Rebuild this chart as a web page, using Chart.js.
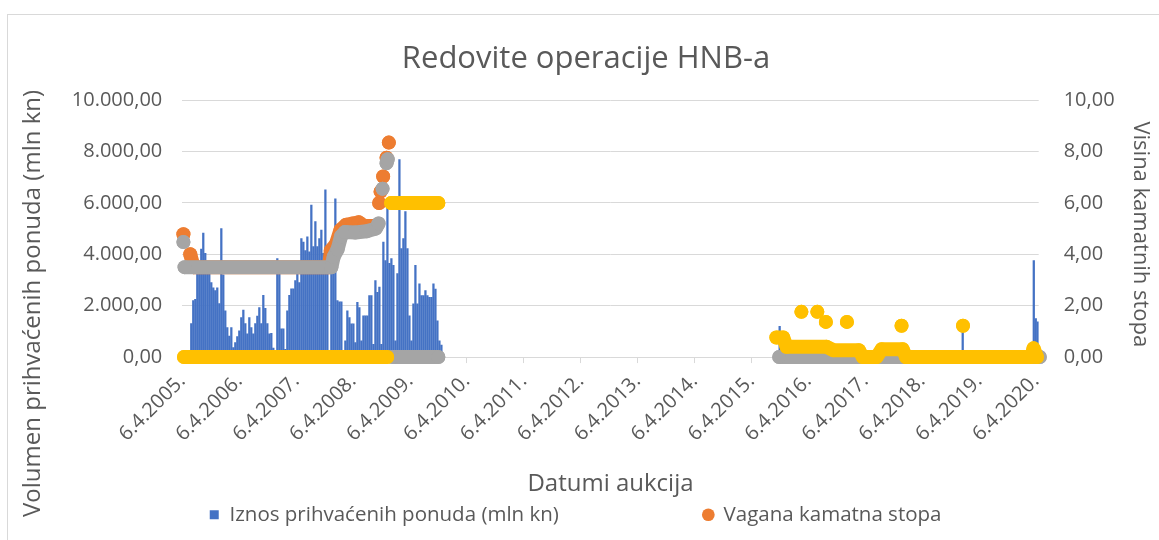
<!DOCTYPE html>
<html>
<head>
<meta charset="utf-8">
<title>Redovite operacije HNB-a</title>
<script src="https://cdn.jsdelivr.net/npm/chart.js@4.4.1/dist/chart.umd.min.js"></script>
<style>
  html, body { margin: 0; padding: 0; background: #fff; overflow: hidden; width: 1159px; height: 540px; }
  #frame { position: absolute; left: 7px; top: 14px; right: 0; bottom: 0; border-left: 1px solid #d9d9d9; border-top: 1px solid #d9d9d9; }
  #chart { position: absolute; left: 0; top: 0; }
</style>
</head>
<body>
<div id="frame"></div>
<canvas id="chart" width="1159" height="540"></canvas>
<script>

// --- data (x = decimal year) ---

const tickLabels = ['6.4.2005.', '6.4.2006.', '6.4.2007.', '6.4.2008.', '6.4.2009.', '6.4.2010.',
  '6.4.2011.', '6.4.2012.', '6.4.2013.', '6.4.2014.', '6.4.2015.', '6.4.2016.', '6.4.2017.',
  '6.4.2018.', '6.4.2019.', '6.4.2020.'];
const firstTick = 2005.26;   // 6.4.2005.

// Iznos prihvaćenih ponuda (mln kn)
const volDates = [
  2005.418, 2005.453, 2005.489, 2005.524, 2005.559, 2005.594, 2005.629, 2005.664, 2005.700, 2005.735,
  2005.770, 2005.805, 2005.840, 2005.875, 2005.911, 2005.946, 2005.981, 2006.016, 2006.051, 2006.086,
  2006.122, 2006.157, 2006.192, 2006.227, 2006.262, 2006.297, 2006.333, 2006.368, 2006.403, 2006.438,
  2006.473, 2006.508, 2006.544, 2006.579, 2006.614, 2006.649, 2006.684, 2006.719, 2006.755, 2006.790,
  2006.825, 2006.860, 2006.895, 2006.930, 2006.966, 2007.001, 2007.036, 2007.071, 2007.106, 2007.142,
  2007.177, 2007.212, 2007.247, 2007.282, 2007.317, 2007.353, 2007.388, 2007.423, 2007.458, 2007.493,
  2007.528, 2007.564, 2007.599, 2007.634, 2007.669, 2007.704, 2007.739, 2007.775, 2007.810, 2007.845,
  2007.880, 2007.915, 2007.950, 2007.986, 2008.021, 2008.056, 2008.091, 2008.126, 2008.161, 2008.197,
  2008.232, 2008.267, 2008.302, 2008.337, 2008.372, 2008.408, 2008.443, 2008.478, 2008.513, 2008.548,
  2008.583, 2008.619, 2008.654, 2008.689, 2008.724, 2008.759, 2008.794, 2008.830, 2008.865, 2008.900,
  2008.935, 2008.970, 2009.006, 2009.041, 2009.076, 2009.111, 2009.146, 2009.181, 2009.217, 2009.252,
  2009.287, 2009.322, 2009.357, 2009.392, 2009.428, 2009.463, 2009.498, 2009.533, 2009.568, 2009.603,
  2009.639, 2009.674, 2009.709, 2009.744, 2009.779, 2009.814,
  2015.758, 2018.975, 2020.224, 2020.259, 2020.294
];
const volValues = [
  1300, 2200, 2250, 3300, 3600, 4200, 4830, 4040, 3250, 3250,
  2900, 2700, 2590, 2700, 2080, 5000, 3200, 1800, 1150, 820,
  1150, 370, 560, 800, 1020, 1540, 1830, 1300, 900, 1540,
  1150, 900, 1300, 1600, 1930, 1300, 2400, 1900, 1300, 900,
  920, 350, 250, 3830, 3250, 1100, 1100, 300, 1800, 2400,
  2660, 2660, 2980, 3250, 2900, 4610, 4480, 4150, 4680, 4100,
  5920, 4300, 5270, 4300, 4610, 4940, 4040, 6510, 3500, 0,
  3500, 3800, 6160, 2200, 2150, 2150, 250, 630, 1800, 1540,
  1290, 1290, 560, 2130, 1930, 630, 1610, 1610, 1610, 2390,
  2390, 500, 2980, 2520, 2720, 500, 4480, 3760, 5860, 3650,
  3830, 3570, 630, 3250, 7690, 4220, 4610, 5660, 4220, 1610,
  630, 2070, 3570, 2070, 2850, 2390, 2390, 2590, 2390, 2330,
  2330, 2850, 2650, 1410, 630, 470,
  1200, 1200, 3760, 1500, 1370
];

// Vagana kamatna stopa (null = break in the run of dots)
const orangeDates  = [2005.28, 2005.28, 2005.40, 2005.46, 2007.84, 2007.87, 2007.96, 2008.04, 2008.14, 2008.26,
  2008.36, 2008.46, 2008.58, 2008.66, 2008.66, 2008.72, 2008.72, 2008.745, 2008.745, 2008.79,
  2008.79, 2008.85, 2008.85, 2008.89];
const orangeValues = [4.78, null, 4.0, 3.5, 3.5, 4.15, 4.4, 4.95, 5.15, 5.2,
  5.25, 5.1, 5.1, 5.1, null, 6.0, null, 6.44, null, 7.03,
  null, 7.76, null, 8.35];

// second rate series (grey)
const grayDates  = [2005.28, 2005.28, 2005.30, 2007.88, 2007.92, 2007.99, 2008.05, 2008.12, 2008.30, 2008.50,
  2008.66, 2008.71, 2008.71, 2008.78, 2008.78, 2008.85, 2008.87, 2008.87, 2008.95, 2009.76,
  2009.76, 2015.75, 2020.33];
const grayValues = [4.48, null, 3.5, 3.5, 3.9, 4.2, 4.7, 4.87, 4.85, 4.9,
  5.0, 5.2, null, 6.55, null, 7.55, 7.7, null, 0, 0,
  null, 0, 0];

// third rate series (yellow)
const yellowDates  = [2005.29, 2008.86, 2008.86, 2008.93, 2009.76, 2009.76,
  2015.70, 2015.82, 2015.88, 2016.58, 2016.70, 2017.15, 2017.22, 2017.46, 2017.55, 2017.92,
  2017.98, 2020.18, 2020.22, 2020.28, 2020.28,
  2016.14, 2016.14, 2016.42, 2016.42, 2016.57, 2016.57, 2016.94, 2016.94, 2017.90, 2017.90, 2018.98];
const yellowValues = [0, 0, null, 6, 6, null,
  0.76, 0.76, 0.4, 0.4, 0.27, 0.27, 0, 0, 0.3, 0.3,
  0, 0, 0.34, 0, null,
  1.76, null, 1.76, null, 1.37, null, 1.37, null, 1.22, null, 1.22];


// --- helpers ---

function toPoints(dates, values) {
  return dates.map(function(d, i) { return { x: d, y: values[i] }; });
}

function hrNumber(v, thousands) {
  let parts = v.toFixed(2).split('.');
  let whole = parts[0];
  if (thousands) whole = whole.replace(/\B(?=(\d{3})+(?!\d))/g, '.');
  return whole + ',' + parts[1];
}

function rateSeries(label, color, dates, values, order) {
  return {
    type: 'scatter',
    label: label,
    data: toPoints(dates, values),
    yAxisID: 'y1',
    order: order,
    showLine: true,
    spanGaps: false,
    tension: 0,
    borderColor: color,
    backgroundColor: color,
    borderWidth: 14,
    borderCapStyle: 'round',
    borderJoinStyle: 'round',
    pointStyle: 'circle',
    pointBackgroundColor: color,
    pointBorderWidth: 0,
    pointRadius: 7,
    pointHoverRadius: 7,
    clip: false
  };
}

Chart.defaults.font.family = "'Open Sans', sans-serif";
Chart.defaults.color = '#595959';

const txt = '#595959';
const gridCol = '#d9d9d9';

// --- chart ---

let myChart = document.getElementById('chart').getContext('2d');

let chart = new Chart(myChart, {
  type: 'scatter',
  data: {
    datasets: [
      {
        type: 'bar',
        label: 'Iznos prihvaćenih ponuda (mln kn)',
        data: toPoints(volDates, volValues),
        yAxisID: 'y',
        order: 4,
        backgroundColor: '#4472C4',
        barThickness: 1.6,
        pointStyle: 'rect'
      },
      rateSeries('Vagana kamatna stopa', '#ED7D31', orangeDates, orangeValues, 3),
      rateSeries('Granična kamatna stopa', '#A5A5A5', grayDates, grayValues, 2),
      rateSeries('Fiksna kamatna stopa', '#FFC000', yellowDates, yellowValues, 1)
    ]
  },
  options: {
    responsive: false,
    animation: false,
    devicePixelRatio: 1,
    events: [],
    layout: { padding: { left: 20, right: 7, top: 14, bottom: 5 } },
    scales: {
      x: {
        type: 'linear',
        position: 'bottom',
        min: firstTick,
        max: 2020.31,
        offset: false,
        afterBuildTicks: function(axis) {
          axis.ticks = tickLabels.map(function(t, i) { return { value: firstTick + i }; });
        },
        ticks: {
          autoSkip: false,
          minRotation: 45,
          maxRotation: 45,
          padding: 6.5,
          color: txt,
          font: { size: 20 },
          callback: function(value, index) { return tickLabels[index]; }
        },
        grid: { display: true, drawOnChartArea: false, drawTicks: true, tickLength: 6, color: gridCol, offset: false },
        border: { display: true, color: gridCol },
        title: {
          display: true,
          text: 'Datumi aukcija',
          color: txt,
          font: { size: 24 },
          padding: { top: 17, bottom: 0 }
        }
      },
      y: {
        position: 'left',
        min: 0,
        max: 10000,
        ticks: {
          stepSize: 2000,
          padding: 20,
          color: txt,
          font: { size: 20 },
          callback: function(v) { return hrNumber(v, true); }
        },
        grid: { color: gridCol, drawTicks: false },
        border: { display: false },
        title: {
          display: true,
          // trailing spaces push the visible text down, like the reference
          text: 'Volumen prihvaćenih ponuda (mln kn)' + ' '.repeat(24),
          color: txt,
          font: { size: 24 },
          padding: { top: -1, bottom: 4 }
        }
      },
      y1: {
        position: 'right',
        min: 0,
        max: 10,
        ticks: {
          stepSize: 2,
          padding: 25,
          color: txt,
          font: { size: 20 },
          callback: function(v) { return hrNumber(v, false); }
        },
        grid: { display: false, drawTicks: false },
        border: { display: false },
        title: {
          display: true,
          text: '  Visina kamatnih stopa',
          color: txt,
          font: { size: 22 },
          padding: { top: -1, bottom: -13 }
        }
      }
    },
    plugins: {
      title: {
        display: true,
        text: 'Redovite operacije HNB-a',
        color: txt,
        font: { size: 31, weight: 'normal' },
        padding: { top: 27, bottom: 22 }
      },
      legend: {
        position: 'bottom',
        labels: {
          usePointStyle: true,
          boxWidth: 10,
          boxHeight: 9,
          padding: 6,
          color: txt,
          font: { size: 20.5 },
          filter: function(item) { return item.datasetIndex < 2; },
          sort: function(a, b) { return a.datasetIndex - b.datasetIndex; },
          generateLabels: function(c) {
            let items = Chart.defaults.plugins.legend.labels.generateLabels(c);
            items.forEach(function(it) {
              if (it.datasetIndex === 0) it.text = it.text + ' '.repeat(26);
              if (it.datasetIndex === 1) it.text = it.text + ' '.repeat(4);
            });
            return items;
          }
        }
      },
      tooltip: { enabled: false }
    }
  }
});

</script>
</body>
</html>
